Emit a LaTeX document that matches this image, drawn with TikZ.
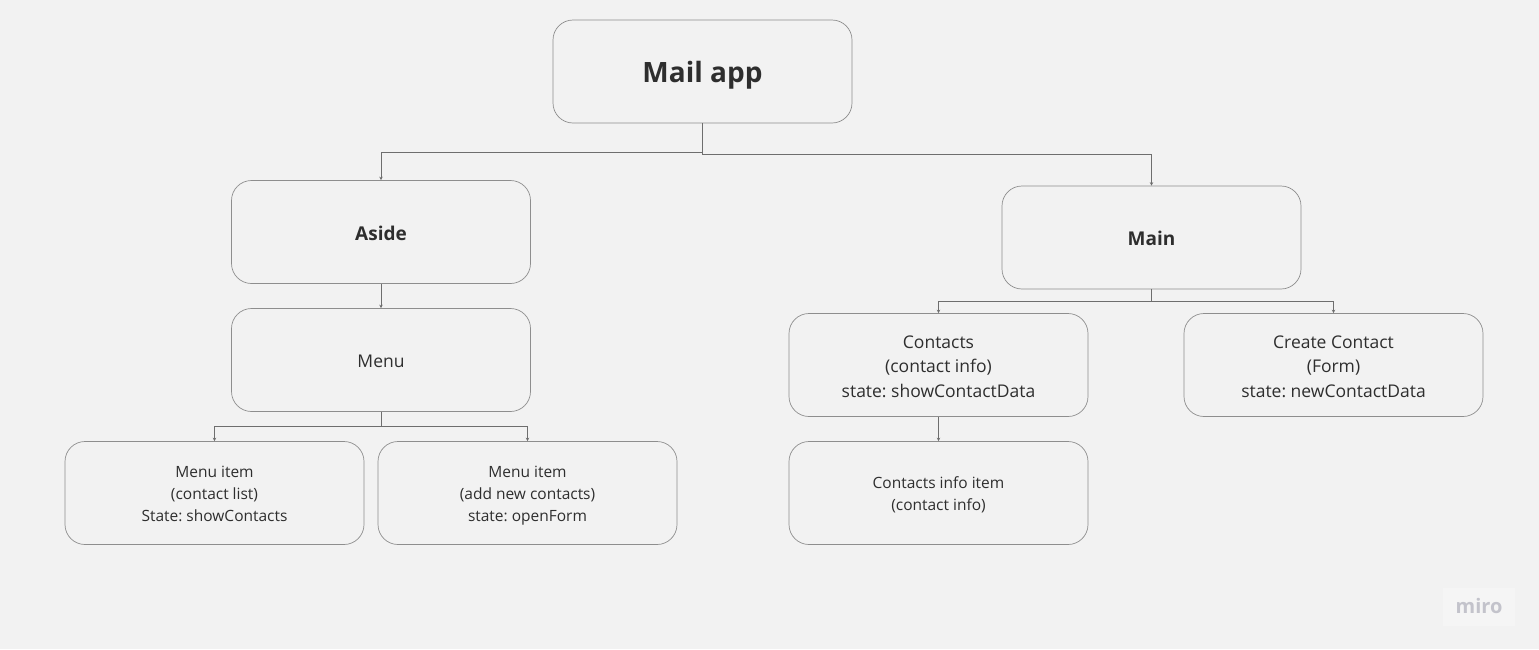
\documentclass[tikz,border=0pt]{standalone}
\usepackage{fontspec}
\setmainfont{Open Sans}
\usetikzlibrary{arrows.meta}
\frenchspacing
\definecolor{bg}{HTML}{F2F2F2}
\definecolor{boxline}{HTML}{8E8E8E}
\definecolor{conn}{HTML}{6E6E6E}
\definecolor{txt}{HTML}{2E2E2E}
\definecolor{miro}{HTML}{C3C3CB}
\newcommand{\vs}{\rule[-0.16em]{0pt}{1.2em}}
\tikzset{
  card/.style={draw=boxline, line width=0.7pt, rounded corners=20pt, minimum width=299pt, minimum height=103pt, align=center, text=txt, inner sep=0pt},
  bigtitle/.style={font=\fontsize{28}{32}\selectfont\bfseries},
  title/.style={font=\fontsize{19}{24}\selectfont\bfseries},
  mid/.style={font=\fontsize{17.5}{24.5}\selectfont},
  small/.style={font=\fontsize{15.5}{22}\selectfont},
  link/.style={draw=conn, line width=0.9pt, -{Stealth[length=3.5pt,width=3.5pt]}},
}
\begin{document}
\begin{tikzpicture}[x=1pt,y=-1pt]
\fill[bg] (0,0) rectangle (1539,649);
\useasboundingbox (0,0) rectangle (1539,649);

\node[card, bigtitle] (mail) at (702.5,71.5) {\vs Mail app};
\node[card, title] (aside) at (381,232) {\vs Aside};
\node[card, title] (main) at (1151.5,237.5) {\vs Main};
\node[card, mid] (menu) at (381,360) {\vs Menu};
\node[card, small] (item1) at (214.5,493) {\vs Menu item\\\vs (contact list)\\\vs State: showContacts};
\node[card, small] (item2) at (527.5,493) {\vs Menu item\\\vs (add new contacts)\\\vs state: openForm};
\node[card, mid] (contacts) at (938.5,365) {\vs Contacts\\\vs (contact info)\\\vs state: showContactData};
\node[card, mid] (create) at (1333.5,365) {\vs Create Contact\\\vs (Form)\\\vs state: newContactData};
\node[card, small] (info) at (938.5,493) {\vs Contacts info item\\\vs (contact info)};

\draw[link] (mail.south) -- ++(0,29) -| (aside.north);
\draw[link] (mail.south) -- ++(0,31) -| (main.north);
\draw[link] (aside.south) -- (menu.north);
\draw[link] (menu.south) -- ++(0,15) -| (item1.north);
\draw[link] (menu.south) -- ++(0,15) -| (item2.north);
\draw[link] (main.south) -- ++(0,12) -| (contacts.north);
\draw[link] (main.south) -- ++(0,12) -| (create.north);
\draw[link] (contacts.south) -- (info.north);

\fill[white, opacity=0.25] (1443,588) rectangle (1515,626);
\node[text=miro, font=\fontsize{20}{22}\selectfont\bfseries] (logo) at (1479,606) {miro};
\end{tikzpicture}
\end{document}
